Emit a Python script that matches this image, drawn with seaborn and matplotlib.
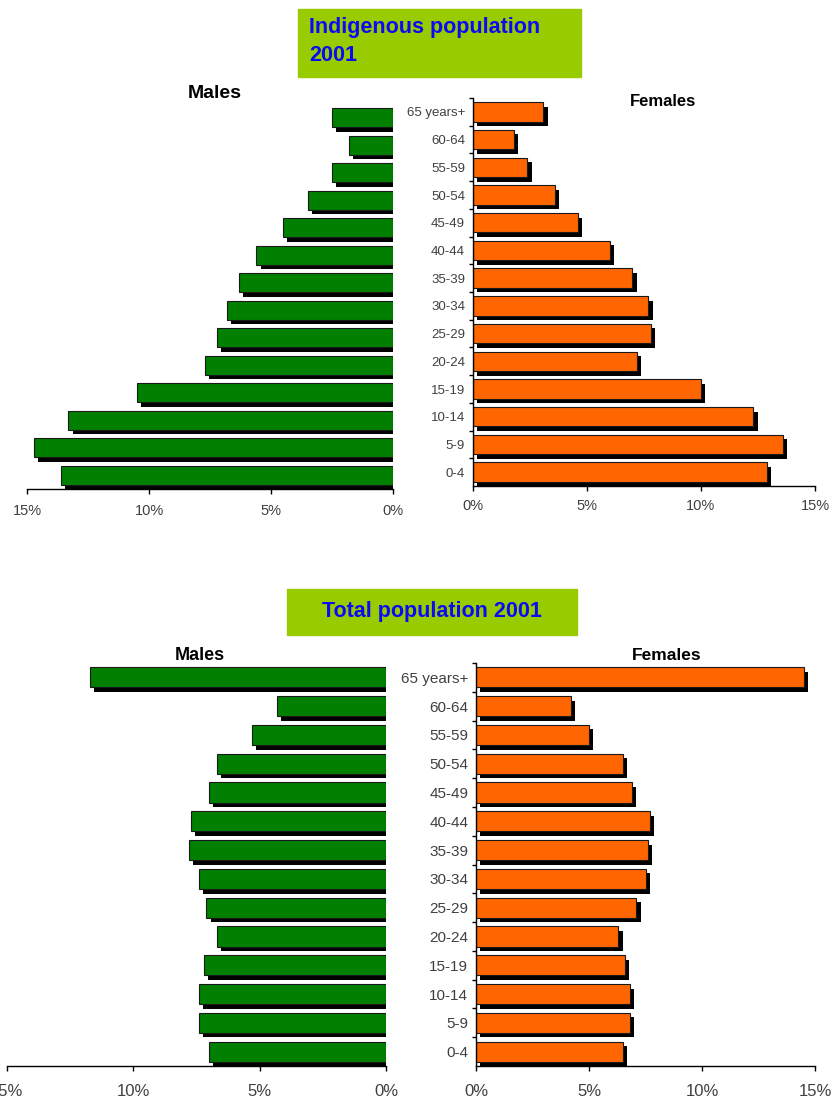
import numpy as np
import matplotlib
matplotlib.use("Agg")
import matplotlib.pyplot as plt
import matplotlib.patheffects as pe
from matplotlib.patches import Rectangle
import seaborn as sns

# ── Data (percent of population) ─────────────────────────────────────────────
ages = ["65 years+", "60-64", "55-59", "50-54", "45-49", "40-44", "35-39",
        "30-34", "25-29", "20-24", "15-19", "10-14", "5-9", "0-4"]

indig_males   = [2.5, 1.8, 2.5, 3.5, 4.5, 5.6, 6.3, 6.8, 7.2, 7.7, 10.5, 13.3, 14.7, 13.6]
indig_females = [3.1, 1.8, 2.4, 3.6, 4.6, 6.0, 7.0, 7.7, 7.8, 7.2, 10.0, 12.3, 13.6, 12.9]
total_males   = [11.7, 4.3, 5.3, 6.7, 7.0, 7.7, 7.8, 7.4, 7.1, 6.7, 7.2, 7.4, 7.4, 7.0]
total_females = [14.5, 4.2, 5.0, 6.5, 6.9, 7.7, 7.6, 7.5, 7.1, 6.3, 6.6, 6.8, 6.8, 6.5]

x_ticks  = [0, 5, 10, 15]
x_labels = ["0%", "5%", "10%", "15%"]

# ── Style ────────────────────────────────────────────────────────────────────
sns.set_theme(style="white")
plt.rcParams["font.family"] = ["Liberation Sans", "DejaVu Sans"]

GREEN  = "#007F00"
ORANGE = "#FF6600"
BOXCOL = "#99CC00"
BLUE   = "#0A0AF5"
LABCOL = "#404040"

W, H = 832, 1102
fig = plt.figure(figsize=(W / 100, H / 100), dpi=100)


def px_axes(x0, y0, x1, y1):
    return fig.add_axes([x0 / W, 1 - y1 / H, (x1 - x0) / W, (y1 - y0) / H])


def fig_text(x, y, s, **kw):
    fig.text(x / W, 1 - y / H, s, **kw)


def shadow(ax):
    # black drop shadow under every bar, offset right/down
    for p in ax.patches:
        p.set_path_effects([pe.SimplePatchShadow(offset=(3.0, -3.3),
                                                 shadow_rgbFace="black", alpha=1.0),
                            pe.Normal()])


def side(ax, values, colour, male, tick_fs, age_fs, pad):
    sns.barplot(x=values, y=ages, orient="h", color=colour, saturation=1,
                width=0.7, edgecolor="#1a1a1a", linewidth=0.8, ax=ax)
    shadow(ax)
    ax.set_ylim(len(ages) - 0.5, -0.5)
    ax.set_xticks(x_ticks)
    ax.set_xticklabels(x_labels, fontsize=tick_fs, color=LABCOL)
    ax.set_xlabel(""); ax.set_ylabel("")
    ax.tick_params(axis="x", which="major", direction="out", length=3.6,
                   width=1, color="black", pad=pad, bottom=True)
    for s in ["top", "right"]:
        ax.spines[s].set_visible(False)
    ax.spines["bottom"].set_color("black")
    ax.spines["bottom"].set_linewidth(1)
    if male:
        ax.set_xlim(15, 0)
        ax.spines["left"].set_visible(False)
        ax.set_yticks([])
    else:
        ax.set_xlim(0, 15)
        ax.spines["left"].set_color("black")
        ax.spines["left"].set_linewidth(1)
        ax.set_yticks(range(len(ages)))
        ax.set_yticklabels(ages, fontsize=age_fs, color=LABCOL)
        ax.set_yticks(np.arange(-0.5, len(ages) - 0.5, 1), minor=True)
        ax.tick_params(axis="y", which="major", length=0, pad=5.5)
        ax.tick_params(axis="y", which="minor", direction="out", length=3,
                       width=1, color="black", left=True)
    ax.patch.set_alpha(0)


# ── Indigenous population 2001 ───────────────────────────────────────────────
ax_im = px_axes(27, 104, 393, 489)
side(ax_im, indig_males, GREEN, True, 10.5, 9.5, 7)
ax_if = px_axes(472.7, 98, 815, 486)
side(ax_if, indig_females, ORANGE, False, 10.5, 9.5, 6)

fig.add_artist(Rectangle((298 / W, 1 - 77 / H), (581 - 298) / W, (77 - 9) / H,
                         transform=fig.transFigure, color=BOXCOL, zorder=0))
fig_text(309, 33, "Indigenous population", color=BLUE, fontsize=15.5,
         fontweight="bold", ha="left", va="baseline")
fig_text(309, 61, "2001", color=BLUE, fontsize=15.5,
         fontweight="bold", ha="left", va="baseline")
fig_text(215, 94, "Males", fontsize=14, fontweight="bold", ha="center",
         va="center", color="black")
fig_text(663, 101, "Females", fontsize=12, fontweight="bold", ha="center",
         va="center", color="black")

# ── Total population 2001 ────────────────────────────────────────────────────
ax_tm = px_axes(6.7, 663, 386, 1066)
side(ax_tm, total_males, GREEN, True, 12, 11, 9)
ax_tf = px_axes(476, 663, 815, 1066)
side(ax_tf, total_females, ORANGE, False, 12, 11, 9)

fig.add_artist(Rectangle((287 / W, 1 - 635 / H), (577 - 287) / W, (635 - 589) / H,
                         transform=fig.transFigure, color=BOXCOL, zorder=0))
fig_text(432, 617, "Total population 2001", color=BLUE, fontsize=15.5,
         fontweight="bold", ha="center", va="baseline")
fig_text(200, 656, "Males", fontsize=13, fontweight="bold", ha="center",
         va="center", color="black")
fig_text(667, 655, "Females", fontsize=12.5, fontweight="bold", ha="center",
         va="center", color="black")

fig.savefig("out.png", dpi=100)
plt.close(fig)
